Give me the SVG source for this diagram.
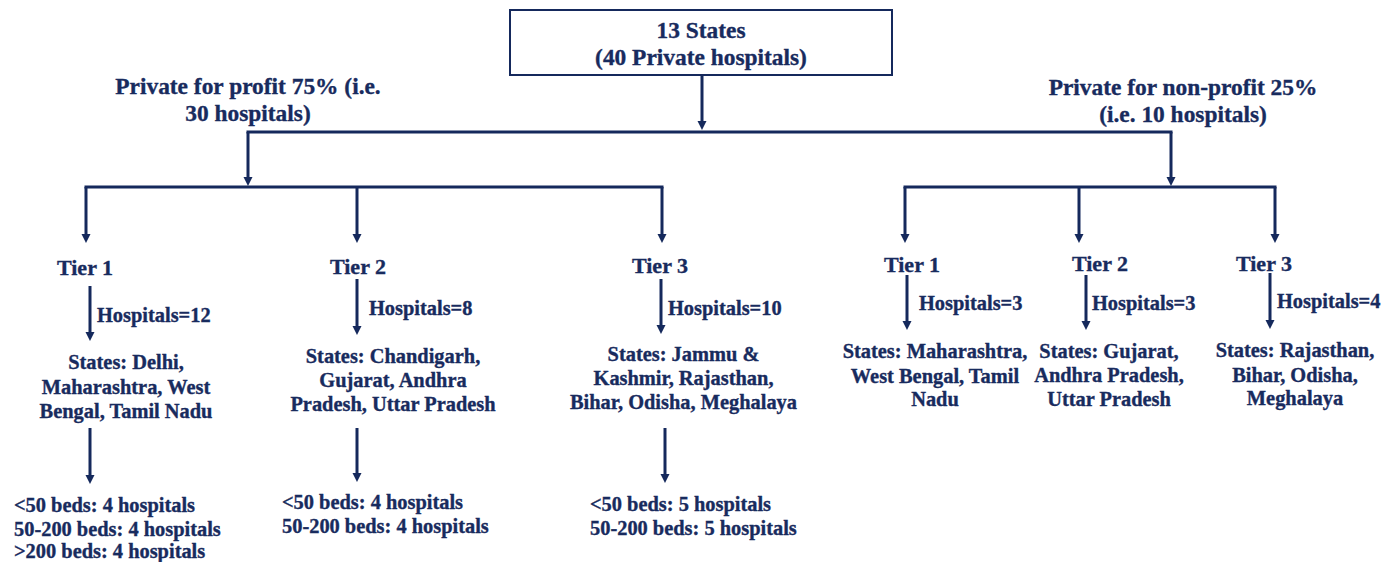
<svg xmlns="http://www.w3.org/2000/svg" width="1383" height="562" viewBox="0 0 1383 562">
  <style>
    text { font-family: "Liberation Serif", "Times New Roman", serif; font-weight: bold; fill: #182b5e; stroke: #182b5e; stroke-width: 0.35px; }
    .big { font-size: 23.4px; }
    .tier { font-size: 22px; }
    .body { font-size: 20.4px; }
    .mid { text-anchor: middle; }
    .conn { stroke: #15295c; stroke-width: 3; fill: none; }
  </style>
  <defs>
    <marker id="arr" viewBox="0 0 10 10" markerUnits="userSpaceOnUse" markerWidth="9" markerHeight="10" refX="4.4" refY="5" orient="auto">
      <path d="M0,0 L10,5 L0,10 z" fill="#15295c"/>
    </marker>
  </defs>
  <rect width="1383" height="562" fill="#ffffff"/>

  <g id="connectors">
    <line class="conn" x1="702" y1="75" x2="702" y2="125" marker-end="url(#arr)"/>
    <line class="conn" x1="246.5" y1="132" x2="1172.5" y2="132"/>
    <line class="conn" x1="248" y1="132" x2="248" y2="181" marker-end="url(#arr)"/>
    <line class="conn" x1="1171" y1="132" x2="1171" y2="181" marker-end="url(#arr)"/>
    <line class="conn" x1="84.5" y1="187" x2="663.5" y2="187"/>
    <line class="conn" x1="86" y1="187" x2="86" y2="238" marker-end="url(#arr)"/>
    <line class="conn" x1="357" y1="187" x2="357" y2="238" marker-end="url(#arr)"/>
    <line class="conn" x1="662" y1="187" x2="662" y2="238" marker-end="url(#arr)"/>
    <line class="conn" x1="903.5" y1="187" x2="1276.5" y2="187"/>
    <line class="conn" x1="905" y1="187" x2="905" y2="238" marker-end="url(#arr)"/>
    <line class="conn" x1="1079" y1="187" x2="1079" y2="238" marker-end="url(#arr)"/>
    <line class="conn" x1="1275" y1="187" x2="1275" y2="238" marker-end="url(#arr)"/>
    <line class="conn" x1="90" y1="286" x2="90" y2="336" marker-end="url(#arr)"/>
    <line class="conn" x1="357" y1="279" x2="357" y2="330" marker-end="url(#arr)"/>
    <line class="conn" x1="661" y1="279" x2="661" y2="329" marker-end="url(#arr)"/>
    <line class="conn" x1="907" y1="275" x2="907" y2="325" marker-end="url(#arr)"/>
    <line class="conn" x1="1086" y1="275" x2="1086" y2="325" marker-end="url(#arr)"/>
    <line class="conn" x1="1270" y1="273" x2="1270" y2="324" marker-end="url(#arr)"/>
    <line class="conn" x1="90" y1="428" x2="90" y2="479" marker-end="url(#arr)"/>
    <line class="conn" x1="357" y1="428" x2="357" y2="477" marker-end="url(#arr)"/>
    <line class="conn" x1="665" y1="428" x2="665" y2="478" marker-end="url(#arr)"/>
  </g>

  <g id="root">
    <rect x="510" y="10" width="382" height="65" fill="#ffffff" stroke="#15295c" stroke-width="2"/>
    <text class="big mid" x="701" y="38">13 States</text>
    <text class="big mid" x="701" y="65">(40 Private hospitals)</text>
  </g>

  <g id="for-profit">
    <text class="big mid" x="248" y="94">Private for profit 75% (i.e.</text>
    <text class="big mid" x="248" y="121">30 hospitals)</text>
  </g>
  <g id="non-profit">
    <text class="big mid" x="1183" y="95">Private for non-profit 25%</text>
    <text class="big mid" x="1183" y="122">(i.e. 10 hospitals)</text>
  </g>

  <g id="fp-tier1">
    <text class="tier mid" x="85" y="275">Tier 1</text>
    <text class="body" x="97" y="322">Hospitals=12</text>
  </g>
  <g id="fp-tier1-states">
    <text class="body mid" x="126" y="369">States: Delhi,</text>
    <text class="body mid" x="126" y="394">Maharashtra, West</text>
    <text class="body mid" x="126" y="418">Bengal, Tamil Nadu</text>
  </g>
  <g id="fp-tier1-beds">
    <text class="body" x="14" y="512">&lt;50 beds: 4 hospitals</text>
    <text class="body" x="14" y="536">50-200 beds: 4 hospitals</text>
    <text class="body" x="14" y="558">&gt;200 beds: 4 hospitals</text>
  </g>

  <g id="fp-tier2">
    <text class="tier mid" x="358" y="274">Tier 2</text>
    <text class="body" x="369" y="315">Hospitals=8</text>
  </g>
  <g id="fp-tier2-states">
    <text class="body mid" x="393" y="363">States: Chandigarh,</text>
    <text class="body mid" x="393" y="387">Gujarat, Andhra</text>
    <text class="body mid" x="393" y="411">Pradesh, Uttar Pradesh</text>
  </g>
  <g id="fp-tier2-beds">
    <text class="body" x="282" y="509">&lt;50 beds: 4 hospitals</text>
    <text class="body" x="282" y="533">50-200 beds: 4 hospitals</text>
  </g>

  <g id="fp-tier3">
    <text class="tier mid" x="660" y="273">Tier 3</text>
    <text class="body" x="668" y="315">Hospitals=10</text>
  </g>
  <g id="fp-tier3-states">
    <text class="body mid" x="683.5" y="361">States: Jammu &amp;</text>
    <text class="body mid" x="683.5" y="385">Kashmir, Rajasthan,</text>
    <text class="body mid" x="683.5" y="409">Bihar, Odisha, Meghalaya</text>
  </g>
  <g id="fp-tier3-beds">
    <text class="body" x="590" y="511">&lt;50 beds: 5 hospitals</text>
    <text class="body" x="590" y="535">50-200 beds: 5 hospitals</text>
  </g>

  <g id="np-tier1">
    <text class="tier mid" x="912" y="272">Tier 1</text>
    <text class="body" x="919" y="310">Hospitals=3</text>
  </g>
  <g id="np-tier1-states">
    <text class="body mid" x="935" y="358">States: Maharashtra,</text>
    <text class="body mid" x="935" y="383">West Bengal, Tamil</text>
    <text class="body mid" x="935" y="406">Nadu</text>
  </g>

  <g id="np-tier2">
    <text class="tier mid" x="1100" y="271">Tier 2</text>
    <text class="body" x="1092" y="310">Hospitals=3</text>
  </g>
  <g id="np-tier2-states">
    <text class="body mid" x="1109" y="358">States: Gujarat,</text>
    <text class="body mid" x="1109" y="382">Andhra Pradesh,</text>
    <text class="body mid" x="1109" y="406">Uttar Pradesh</text>
  </g>

  <g id="np-tier3">
    <text class="tier mid" x="1264" y="271">Tier 3</text>
    <text class="body" x="1277" y="308">Hospitals=4</text>
  </g>
  <g id="np-tier3-states">
    <text class="body mid" x="1295" y="357">States: Rajasthan,</text>
    <text class="body mid" x="1295" y="382">Bihar, Odisha,</text>
    <text class="body mid" x="1295" y="405">Meghalaya</text>
  </g>
</svg>
